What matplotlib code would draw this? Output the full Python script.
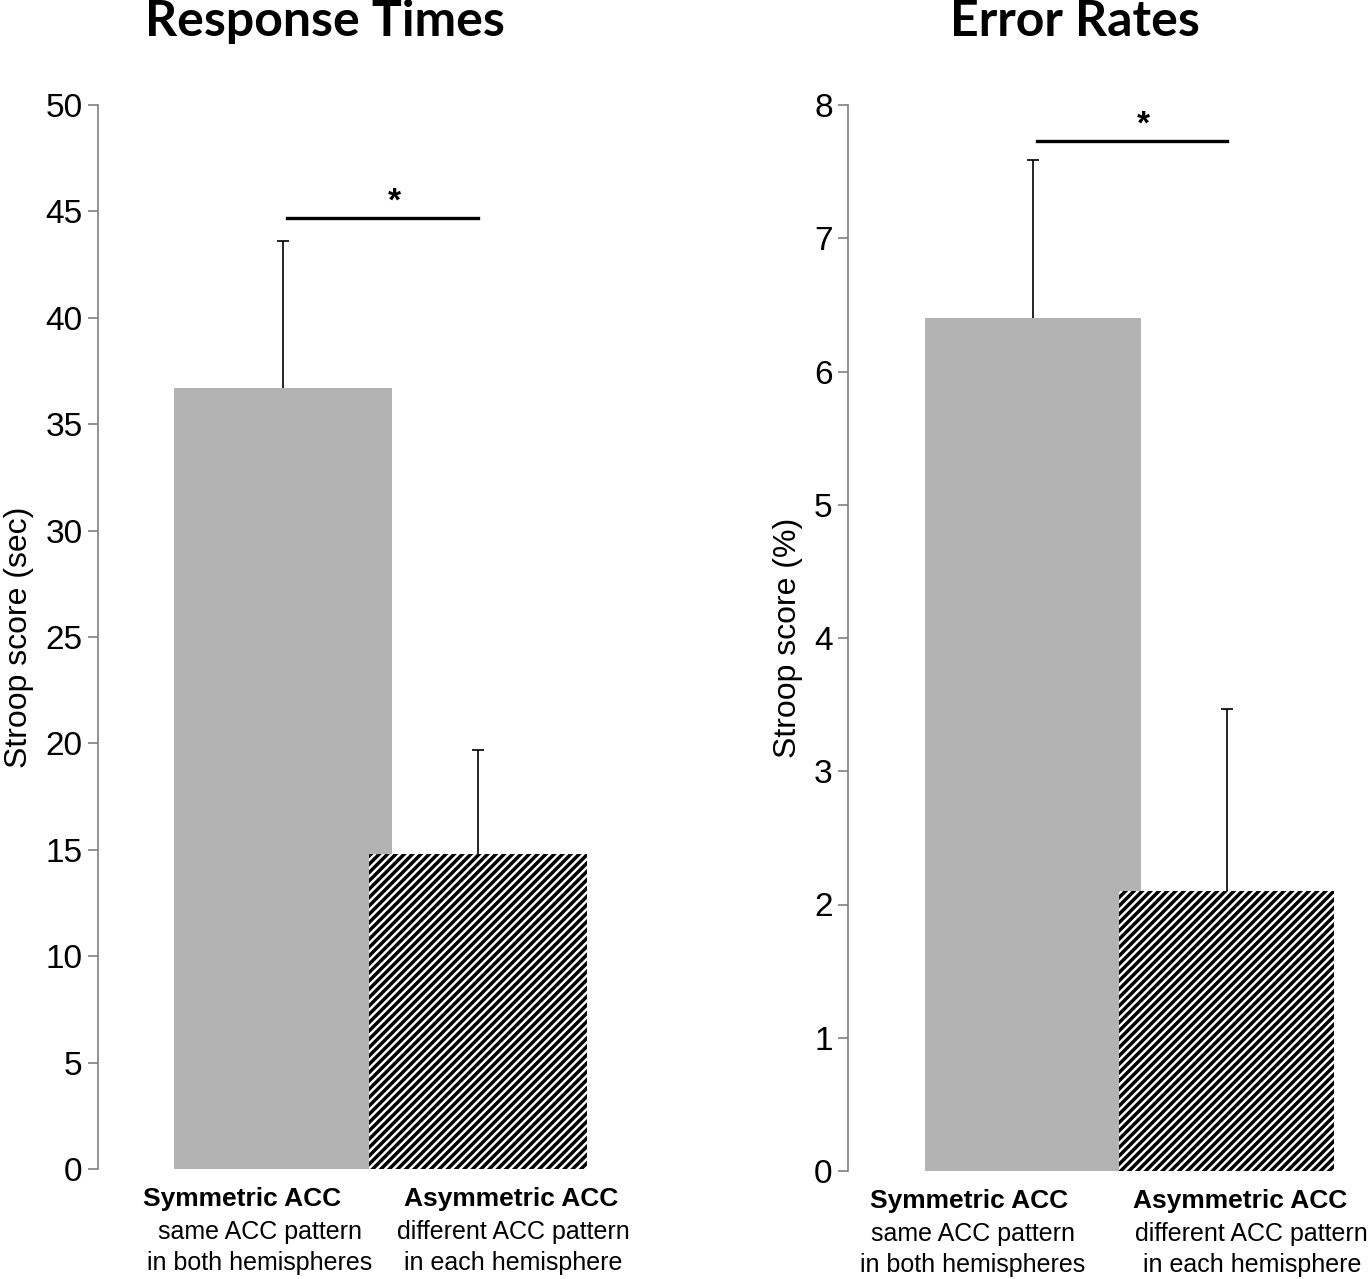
import matplotlib
matplotlib.use("Agg")
import matplotlib.pyplot as plt

groups = ['Symmetric ACC', 'Asymmetric ACC']
subtitles = ['same ACC pattern\nin both hemispheres', 'different ACC pattern\nin each hemisphere']
rt_means = [36.7, 14.8]
rt_err = [6.9, 4.9]
er_means = [6.4, 2.1]
er_err = [1.19, 1.37]
rt_sig = 44.7
er_sig = 7.73
rt_ticks = [0, 5, 10, 15, 20, 25, 30, 35, 40, 45, 50]
er_ticks = [0, 1, 2, 3, 4, 5, 6, 7, 8]

plt.rcParams['font.family'] = ['Liberation Sans', 'DejaVu Sans']
plt.rcParams['hatch.linewidth'] = 2.5

W, H = 1368, 1279
fig = plt.figure(figsize=(W / 100, H / 100), dpi=100)


def panel(rect, xlim, means, errs, ticks, sig, title, ylabel, title_x, lab_off, sub_off):
    ax = fig.add_axes(rect)
    x = [0, 1]
    width = 1.115
    ax.bar(x[0], means[0], width=width, color='#b3b3b3', linewidth=0, zorder=2)
    ax.bar(x[1], means[1], width=width, color='white', edgecolor='black',
           hatch='////', linewidth=0, zorder=3)
    # upper error bars only
    tops = [m + e for m, e in zip(means, errs)]
    ax.vlines(x, means, tops, color='black', lw=1.2, zorder=4)
    ax.plot(x, tops, ls='none', marker='_', ms=8, mew=1.2, color='black', zorder=4)
    ax.plot([x[0] + 0.02, x[1]], [sig, sig], color='black', lw=2.4, zorder=4)
    ax.text(0.57, sig, '*', ha='center', va='bottom', fontsize=24,
            fontweight='bold', zorder=5)
    ax.set_xlim(*xlim)
    ax.set_ylim(ticks[0], ticks[-1])
    ax.set_yticks(ticks)
    ax.set_xticks([])
    for s in ['top', 'right', 'bottom']:
        ax.spines[s].set_visible(False)
    ax.spines['left'].set_color('#808080')
    ax.spines['left'].set_linewidth(1.2)
    ax.tick_params(axis='y', direction='out', length=7, width=1.2,
                   color='#808080', labelsize=24, pad=4)
    ax.set_ylabel(ylabel, fontsize=23, labelpad=8)
    trans = ax.get_xaxis_transform()
    for i in range(2):
        ax.text(x[i] + lab_off[i], -0.017, groups[i], transform=trans,
                ha='center', va='top', fontsize=19, fontweight='bold')
        ax.text(x[i] + sub_off[i], -0.048, subtitles[i], transform=trans,
                ha='center', va='top', fontsize=18, linespacing=1.38)
    fig.text(title_x / W, 1 - 21 / H, title, ha='center', va='center',
             fontsize=36, fontweight='bold', family=['Lato', 'DejaVu Sans'])
    return ax


panel([98 / W, 1 - 1169 / H, 502 / W, 1064 / H], (-0.949, 1.626),
      rt_means, rt_err, rt_ticks, rt_sig, 'Response Times',
      'Stroop score (sec)', 325, [-0.21, 0.17], [-0.12, 0.18])
panel([848 / W, 1 - 1171 / H, 520 / W, 1066 / H], (-0.956, 1.731),
      er_means, er_err, er_ticks, er_sig, 'Error Rates',
      'Stroop score (%)', 1075, [-0.33, 0.07], [-0.31, 0.13])

fig.savefig('out.png', dpi=100)
